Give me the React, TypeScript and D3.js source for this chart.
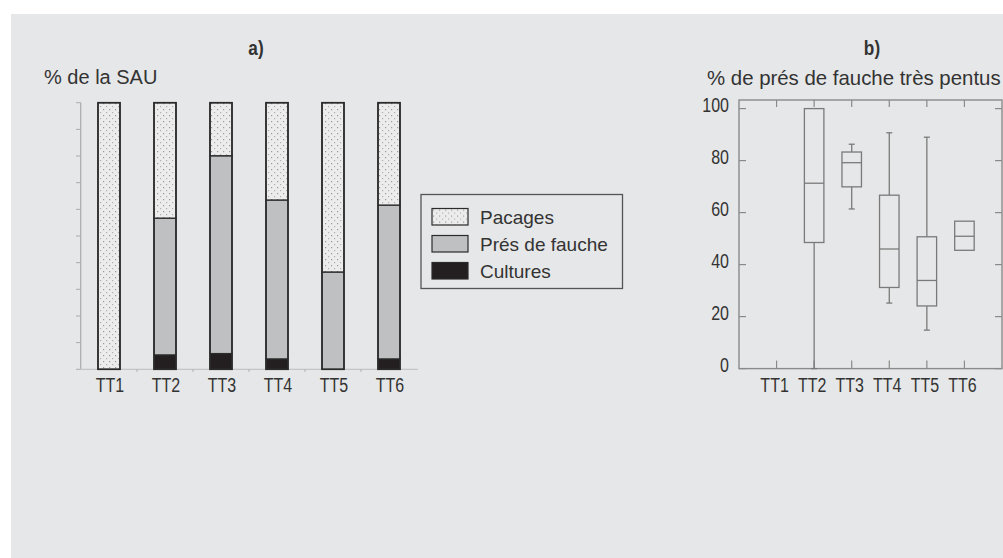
import React from 'react';
import * as d3 from 'd3';

// panel a) : share of the SAU
const categories = ['TT1', 'TT2', 'TT3', 'TT4', 'TT5', 'TT6'];
const cultures = [0, 5.4, 5.9, 3.9, 0, 3.9];
const presDeFauche = [0, 51.3, 74.2, 59.6, 36.5, 57.7];
const pacages = [100, 43.3, 19.9, 36.5, 63.5, 38.4];
const legendLabels = ['Pacages', 'Prés de fauche', 'Cultures'];

// panel b) : boxplots, null = no data
const whiskerLow = [null, 0, 61.4, 25.2, 14.8, 45.5];
const q1 = [null, 48.5, 69.9, 31.2, 24.1, 45.5];
const median = [null, 71.3, 79.2, 46, 33.9, 50.9];
const q3 = [null, 100, 83.3, 66.7, 50.7, 56.7];
const whiskerHigh = [null, 100, 86.3, 90.7, 89, 56.7];
const yTicksB = [0, 20, 40, 60, 80, 100];

const FONT = "'Liberation Sans', Arial, sans-serif";
const NARROW = 0.82;

const Narrow = ({ x, y, anchor = 'middle', size = 19.5, weight = 'normal', children }: any) => (
  <text
    transform={`translate(${x},${y}) scale(${NARROW},1)`}
    textAnchor={anchor}
    fontFamily={FONT}
    fontSize={size}
    fontWeight={weight}
    fill="#333"
  >
    {children}
  </text>
);

const App = () => {
  // --- panel a scales
  const xA = d3.scaleBand().domain(categories).range([81, 417]).paddingInner(0).paddingOuter(0);
  const yA = d3.scaleLinear().domain([0, 100]).range([369.3, 102.7]);
  const barW = 22;

  const rows = categories.map((c, i) => ({
    cat: c,
    cultures: cultures[i],
    pres: presDeFauche[i],
    pacages: pacages[i]
  }));
  const stack = d3.stack<any>().keys(['cultures', 'pres', 'pacages'])(rows);
  const fills: Record<string, string> = {
    cultures: '#231f20',
    pres: '#bfc0c2',
    pacages: 'url(#dots)'
  };

  // --- panel b scales
  const xB = d3.scalePoint().domain(categories).range([739, 1002]).padding(1);
  const yB = d3.scaleLinear().domain([0, 100]).range([368.6, 108.6]);
  const boxW = 19.5;
  const frame = { l: 739, r: 1002, t: 100, b: 368.6 };

  return (
    <div style={{ position: 'absolute', left: 0, top: 0 }}>
      <svg width={1003} height={558} style={{ display: 'block' }}>
        <defs>
          <pattern id="dots" width={6} height={6} patternUnits="userSpaceOnUse">
            <rect width={6} height={6} fill="#ececec" />
            <rect x={1} y={1} width={1.2} height={1.2} fill="#9a9a9a" />
            <rect x={4} y={4} width={1.2} height={1.2} fill="#b0b0b0" />
          </pattern>
        </defs>
        <rect x={0} y={0} width={1003} height={558} fill="#fff" />
        <rect x={11} y={14} width={992} height={544} fill="#e6e7e8" />

        {/* titles */}
        <Narrow x={256} y={55} size={21} weight="bold">a)</Narrow>
        <Narrow x={872} y={55} size={21} weight="bold">b)</Narrow>

        {/* ---------- panel a ---------- */}
        <text x={44} y={84} fontFamily={FONT} fontSize={20} fill="#333">% de la SAU</text>
        <line x1={80.7} x2={80.7} y1={yA(100)} y2={yA(0)} stroke="#aaa" strokeWidth={1.2} />
        {d3.range(0, 101, 10).map(t => (
          <line key={t} x1={76} x2={80.7} y1={yA(t)} y2={yA(t)} stroke="#aaa" strokeWidth={1} />
        ))}
        <line x1={80} x2={418} y1={yA(0)} y2={yA(0)} stroke="#c4c4c4" strokeWidth={1.2} />
        {categories.slice(1).map(c => (
          <line key={c} x1={xA(c)!} x2={xA(c)!} y1={yA(0)} y2={yA(0) + 2.5} stroke="#aaa" strokeWidth={1} />
        ))}
        {stack.map(layer =>
          layer.map((d, i) =>
            d[1] - d[0] > 0 ? (
              <rect
                key={layer.key + i}
                x={xA(categories[i])! + (xA.bandwidth() - barW) / 2}
                y={yA(d[1])}
                width={barW}
                height={yA(d[0]) - yA(d[1])}
                fill={fills[layer.key]}
                stroke="#2b2b2b"
                strokeWidth={1.3}
              />
            ) : null
          )
        )}
        {categories.map(c => (
          <rect
            key={'o' + c}
            x={xA(c)! + (xA.bandwidth() - barW) / 2}
            y={yA(100)}
            width={barW}
            height={yA(0) - yA(100)}
            fill="none"
            stroke="#2b2b2b"
            strokeWidth={1.6}
          />
        ))}
        {categories.map(c => (
          <Narrow key={'l' + c} x={xA(c)! + xA.bandwidth() / 2 + 1} y={392}>{c}</Narrow>
        ))}

        {/* legend */}
        <rect x={421} y={194.5} width={201.5} height={94} fill="none" stroke="#555" strokeWidth={1.3} />
        {legendLabels.map((l, i) => (
          <g key={l} transform={`translate(432,${208.5 + i * 27})`}>
            <rect width={36} height={16.5}
              fill={i === 0 ? 'url(#dots)' : i === 1 ? '#bfc0c2' : '#231f20'}
              stroke="#2b2b2b" strokeWidth={1.2} />
            <text x={48} y={15} fontFamily={FONT} fontSize={19} fill="#333">{l}</text>
          </g>
        ))}

        {/* ---------- panel b ---------- */}
        <text x={707} y={85} fontFamily={FONT} fontSize={20.4} fill="#333">% de prés de fauche très pentus</text>
        <rect x={frame.l} y={frame.t} width={frame.r - frame.l} height={frame.b - frame.t}
          fill="none" stroke="#8a8a8a" strokeWidth={1.4} />
        {yTicksB.map(t => (
          <g key={t}>
            <line x1={frame.l} x2={frame.l + 7} y1={yB(t)} y2={yB(t)} stroke="#8a8a8a" strokeWidth={1.2} />
            <line x1={frame.r - 7} x2={frame.r} y1={yB(t)} y2={yB(t)} stroke="#8a8a8a" strokeWidth={1.2} />
            <Narrow x={729} y={yB(t) + 3} anchor="end">{t}</Narrow>
          </g>
        ))}
        {categories.map(c => (
          <g key={'t' + c}>
            <line x1={xB(c)!} x2={xB(c)!} y1={frame.t} y2={frame.t + 7} stroke="#8a8a8a" strokeWidth={1.2} />
            <line x1={xB(c)!} x2={xB(c)!} y1={frame.b - 8} y2={frame.b} stroke="#8a8a8a" strokeWidth={1.2} />
            <Narrow x={xB(c)! - 2} y={392}>{c}</Narrow>
          </g>
        ))}
        {categories.map((c, i) => {
          if (q1[i] === null) return null;
          const cx = xB(c)!;
          const lo = whiskerLow[i]!, hi = whiskerHigh[i]!;
          return (
            <g key={'b' + c} stroke="#7a7a7a" strokeWidth={1.3} fill="none">
              {hi > q3[i]! && (
                <>
                  <line x1={cx} x2={cx} y1={yB(hi)} y2={yB(q3[i]!)} />
                  <line x1={cx - 3} x2={cx + 3} y1={yB(hi)} y2={yB(hi)} />
                </>
              )}
              {lo < q1[i]! && (
                <>
                  <line x1={cx} x2={cx} y1={yB(q1[i]!)} y2={yB(lo)} />
                  <line x1={cx - 3} x2={cx + 3} y1={yB(lo)} y2={yB(lo)} />
                </>
              )}
              <rect x={cx - boxW / 2} y={yB(q3[i]!)} width={boxW} height={yB(q1[i]!) - yB(q3[i]!)} />
              <line x1={cx - boxW / 2} x2={cx + boxW / 2} y1={yB(median[i]!)} y2={yB(median[i]!)} />
            </g>
          );
        })}
      </svg>
    </div>
  );
};

export default App;
